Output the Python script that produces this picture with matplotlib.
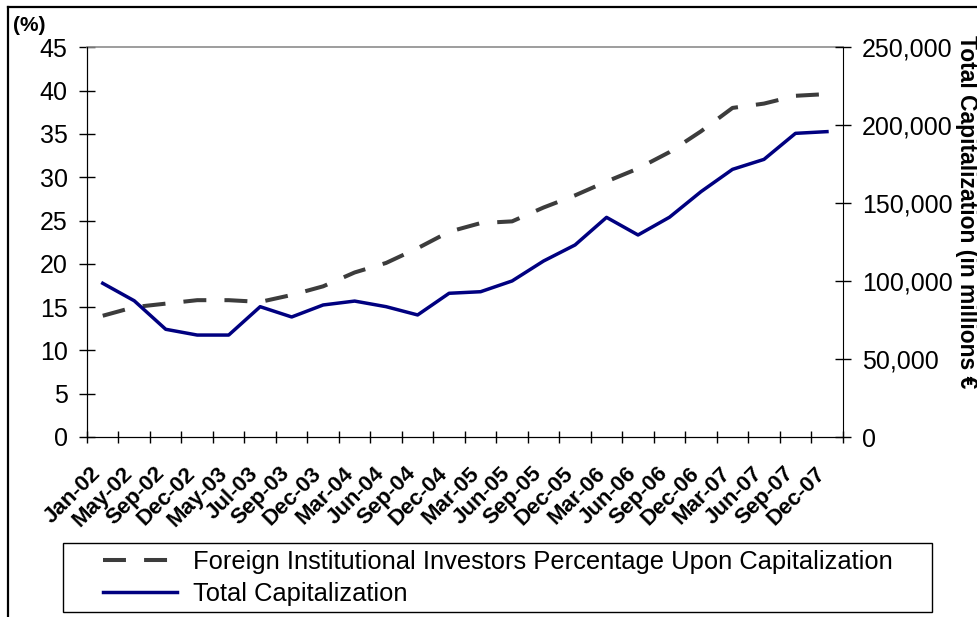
import matplotlib
matplotlib.use("Agg")
import matplotlib.pyplot as plt
import numpy as np
from matplotlib.lines import Line2D
from matplotlib.patches import Rectangle
from matplotlib.ticker import FuncFormatter, FixedLocator

plt.rcParams['font.family'] = ['Liberation Sans', 'DejaVu Sans']

# data
months = ['Jan-02', 'May-02', 'Sep-02', 'Dec-02', 'May-03', 'Jul-03', 'Sep-03', 'Dec-03',
          'Mar-04', 'Jun-04', 'Sep-04', 'Dec-04', 'Mar-05', 'Jun-05', 'Sep-05', 'Dec-05',
          'Mar-06', 'Jun-06', 'Sep-06', 'Dec-06', 'Mar-07', 'Jun-07', 'Sep-07', 'Dec-07']
foreign_pct = [14.0, 15.0, 15.4, 15.8, 15.8, 15.6, 16.4, 17.4, 19.0, 20.1, 21.8, 23.7,
               24.7, 24.9, 26.5, 27.9, 29.5, 31.0, 32.9, 35.3, 38.0, 38.5, 39.4, 39.6]
total_cap = [98600, 87400, 69100, 65400, 65400, 83600, 77000, 84700, 87200, 83600, 78300, 92200,
             93200, 100100, 112900, 123200, 140900, 129600, 141000, 157400, 171700, 178100, 194800, 195900]

W, H = 978, 617
fig = plt.figure(figsize=(W / 100, H / 100), dpi=100)

# outer chart frame (clipped at right/bottom like the original)
fig.add_artist(Line2D([8 / W, 8 / W], [0, 1 - 7.3 / H], color='black', lw=1.6))
fig.add_artist(Line2D([8 / W, 1], [1 - 7.3 / H, 1 - 7.3 / H], color='black', lw=1.6))

left, right, top, bottom = 87, 842.7, 47.3, 437
ax = fig.add_axes([left / W, 1 - bottom / H, (right - left) / W, (bottom - top) / H])
ax2 = ax.twinx()

x = np.arange(len(months))
l1, = ax.plot(x, foreign_pct, color='#3c3c3c', lw=2.9, dashes=(5.7, 4.5))
l2, = ax2.plot(x, total_cap, color='#000080', lw=2.5)

ax.set_xlim(-0.5, len(months) - 0.5)
ax.set_ylim(0, 45)
ax2.set_ylim(0, 250000)
ax.set_yticks(np.arange(0, 46, 5))
ax2.set_yticks(np.arange(0, 250001, 50000))
ax2.yaxis.set_major_formatter(FuncFormatter(lambda v, p: f'{int(v):,}'))

# category boundaries as major ticks, labels on minor ticks at centres
ax.xaxis.set_major_locator(FixedLocator(np.arange(-0.5, len(months), 1.0)))
ax.xaxis.set_minor_locator(FixedLocator(x - 0.15))
ax.set_xticklabels([], minor=False)
ax.set_xticklabels(months, minor=True, rotation=45, ha='right', va='center',
                   rotation_mode='anchor', fontsize=16, fontweight='bold')
ax.tick_params(axis='x', which='major', direction='inout', length=8.4, width=1)
ax.tick_params(axis='x', which='minor', length=0, pad=24)

ax.tick_params(axis='y', direction='inout', length=12, width=1, labelsize=18, pad=8)
ax2.tick_params(axis='y', direction='inout', length=12, width=1, labelsize=18, pad=8)

for a in (ax, ax2):
    a.spines['right'].set_visible(False)
    a.spines['top'].set_visible(False)
ax2.spines['right'].set_visible(True)
ax2.spines['right'].set_color('black')
ax.spines['top'].set_visible(True)
ax.spines['top'].set_color('#8c8c8c')
ax.spines['top'].set_linewidth(1.2)

fig.text(12.7 / W, 1 - 16 / H, '(%)', ha='left', va='top', fontsize=15, fontweight='bold')
fig.text(966.7 / W, 1 - 35 / H, 'Total Capitalization (in millions \u20ac', rotation=-90,
         ha='center', va='top', fontsize=16.5, fontweight='bold')

# legend box
fig.add_artist(Rectangle((62.7 / W, 1 - 612.3 / H), (932.3 - 62.7) / W, (612.3 - 543.3) / H,
                         transform=fig.transFigure, fill=False, edgecolor='black', lw=1))
fig.legend([l1, l2], ['Foreign Institutional Investors Percentage Upon Capitalization',
                      'Total Capitalization'],
           loc='upper left', bbox_to_anchor=(103 / W, 1 - 550 / H), frameon=False,
           fontsize=18.4, borderpad=0, borderaxespad=0, handlelength=2.9,
           handletextpad=0.62, labelspacing=0.3)

fig.savefig('out.png', dpi=100)
